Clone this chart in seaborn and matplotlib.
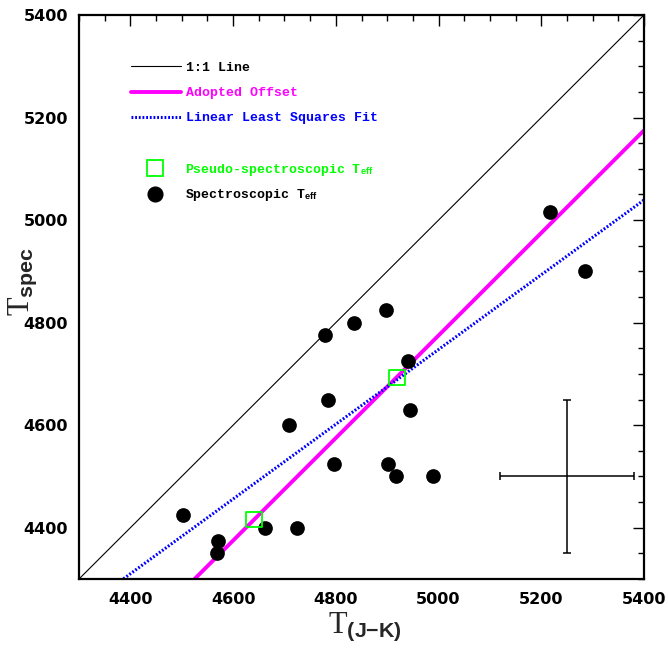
import numpy as np
import matplotlib
matplotlib.use("Agg")
import matplotlib.pyplot as plt
import seaborn as sns
from matplotlib.lines import Line2D
from matplotlib.ticker import MultipleLocator

# ---- data ----
t_jk_spec = [5217, 5285, 4779, 4836, 4898, 4941, 4785, 4709, 4944,
             4797, 4902, 4918, 4990, 4503, 4662, 4724, 4571, 4568]
t_spec = [5015, 4900, 4775, 4800, 4825, 4725, 4650, 4600, 4630,
          4525, 4525, 4500, 4500, 4425, 4400, 4400, 4375, 4350]
t_jk_pseudo = [4919, 4641]
t_spec_pseudo = [4693, 4416]

adopted_offset = 225.0
fit_slope = 0.729
fit_intercept = 1102.6

err_x, err_y = 5250, 4500
err_dx, err_dy = 130, 150

lims = [4300, 5400]
tick_major = 200
tick_minor = 50

sns.set_theme(style="white")
plt.rcParams["font.family"] = ["DejaVu Sans"]
plt.rcParams["mathtext.fontset"] = "custom"
plt.rcParams["mathtext.rm"] = "Liberation Serif"
plt.rcParams["mathtext.sf"] = "Liberation Sans:bold"
plt.rcParams["mathtext.bf"] = "Liberation Sans:bold"
plt.rcParams["mathtext.it"] = "Liberation Serif:italic"

fig = plt.figure(figsize=(6.68, 6.52), dpi=100)
ax = fig.add_axes([79 / 668, 1 - 579 / 652, 565 / 668, 564 / 652])

xl = np.array(lims, dtype=float)
sns.lineplot(x=xl, y=xl, color="black", lw=0.8, ax=ax)
sns.lineplot(x=xl, y=xl - adopted_offset, color="#ff00ff", lw=2.8, ax=ax)
sns.lineplot(x=xl, y=fit_slope * xl + fit_intercept, color="#0000ff", lw=2.2,
             linestyle=(0, (0.6, 0.6)), ax=ax)

sns.scatterplot(x=t_jk_spec, y=t_spec, color="black", s=112, linewidth=0,
                ax=ax, zorder=4)
sns.scatterplot(x=t_jk_pseudo, y=t_spec_pseudo, marker="s", s=130,
                facecolors="none", edgecolor="#00ff00", linewidth=1.3,
                ax=ax, zorder=5)

ax.errorbar([err_x], [err_y], xerr=[err_dx], yerr=[err_dy], fmt="none",
            ecolor="black", elinewidth=1.1, capsize=3, capthick=1.1)

ax.set_xlim(lims)
ax.set_ylim(lims)
ax.xaxis.set_major_locator(MultipleLocator(tick_major))
ax.yaxis.set_major_locator(MultipleLocator(tick_major))
ax.xaxis.set_minor_locator(MultipleLocator(tick_minor))
ax.yaxis.set_minor_locator(MultipleLocator(tick_minor))
ax.tick_params(which="both", direction="in", top=True, right=True,
               color="black", width=1.0)
ax.tick_params(which="major", length=8, labelsize=11.5, labelcolor="black")
ax.tick_params(which="minor", length=4)
ax.tick_params(axis="x", which="major", pad=9)
ax.tick_params(axis="y", which="major", pad=8)
for lab in ax.get_xticklabels() + ax.get_yticklabels():
    lab.set_fontweight("bold")
for sp in ax.spines.values():
    sp.set_color("black")
    sp.set_linewidth(1.6)

ax.set_xlabel(r"$\mathrm{T}_{\mathsf{(J{-}K)}}$", fontsize=22)
ax.set_ylabel(r"$\mathrm{T}_{\mathsf{spec}}$", fontsize=22)
ax.xaxis.set_label_coords(0.506, -0.056)
ax.yaxis.set_label_coords(-0.071, 0.528)

legfont = {"family": ["Liberation Mono", "DejaVu Sans Mono"],
           "weight": "bold", "size": 9.5}
h1 = [Line2D([], [], color="black", lw=0.8),
      Line2D([], [], color="#ff00ff", lw=2.8),
      Line2D([], [], color="#0000ff", lw=2.2, linestyle=(0, (0.6, 0.6)))]
leg1 = ax.legend(h1, ["1:1 Line", "Adopted Offset", "Linear Least Squares Fit"],
                 loc="upper left", bbox_to_anchor=(0.092, 0.917),
                 frameon=False, borderpad=0, borderaxespad=0,
                 handlelength=3.8, handletextpad=0.4, labelspacing=0.98,
                 prop=legfont, labelcolor=["black", "#ff00ff", "#0000ff"])
ax.add_artist(leg1)

h2 = [Line2D([], [], marker="s", ms=11.5, mfc="none", mec="#00ff00", mew=1.3,
             linestyle="none"),
      Line2D([], [], marker="o", ms=10.6, mfc="black", mec="black",
             linestyle="none")]
ax.legend(h2, [r"Pseudo-spectroscopic T$_{\mathbf{eff}}$",
               r"Spectroscopic T$_{\mathbf{eff}}$"],
          loc="upper left", bbox_to_anchor=(0.106, 0.7395),
          frameon=False, borderpad=0, borderaxespad=0,
          handlelength=2.4, handletextpad=1.1, labelspacing=0.7,
          prop=legfont, labelcolor=["#00ff00", "black"])

fig.savefig("out.png", dpi=100)
